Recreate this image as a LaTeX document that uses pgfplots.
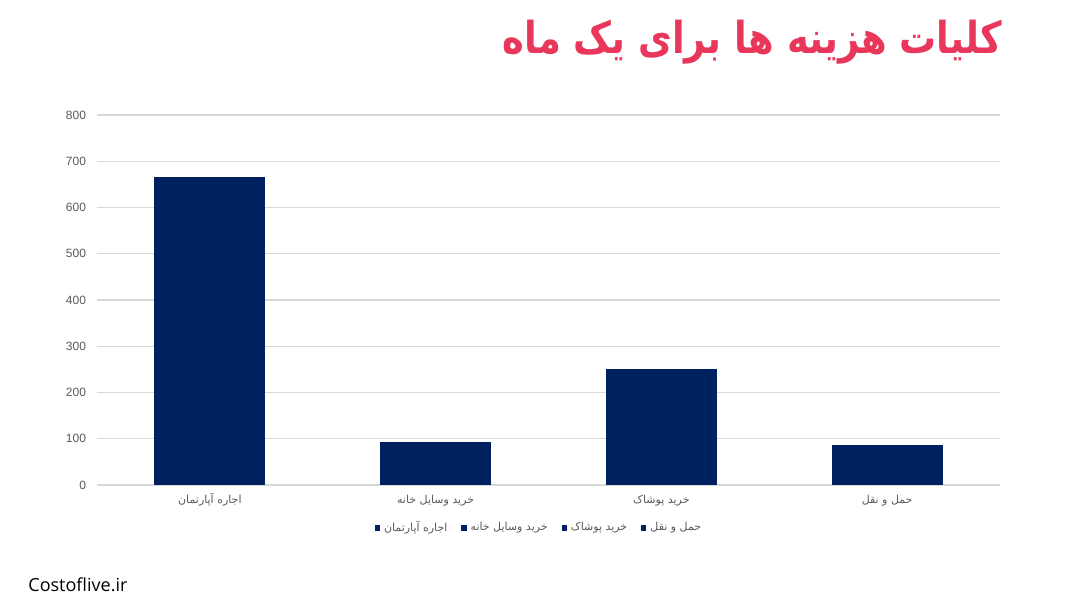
\documentclass[border=0pt]{standalone}
\usepackage{fontspec}
\usepackage{pgfplots}
\pgfplotsset{compat=1.18}
\setmainfont{Liberation Sans}
\newfontfamily\arabicfont[Script=Arabic]{DejaVu Sans}
\newfontfamily\wmfont{Open Sans}
\TeXXeTstate=1
\definecolor{navy}{RGB}{0,33,96}
\definecolor{titlered}{RGB}{232,55,90}
\definecolor{gridgray}{RGB}{217,217,217}
\definecolor{labelgray}{RGB}{89,89,89}

% 1 px of the reference = 0.5pt
\begin{document}
\begin{tikzpicture}
  \path[use as bounding box] (0pt,0pt) rectangle (540pt,303.5pt);
  \begin{axis}[at={(48.5pt,61pt)}, anchor=south west, scale only axis,
      width=451.5pt, height=185pt,
      xmin=-0.5, xmax=3.5, ymin=0, ymax=800,
      ytick={0,100,...,800}, ymajorgrids,
      grid style={gridgray, line width=0.7pt},
      axis x line*=bottom, axis y line*=left,
      x axis line style={gridgray, line width=0.7pt, -},
      y axis line style={draw=none},
      ytick style={draw=none},
      xtick={0,1,2,3},
      xticklabels={{\beginR اجاره آپارتمان\endR},{\beginR خرید وسایل خانه\endR},{\beginR خرید پوشاک\endR},{\beginR حمل و نقل\endR}},
      xtick style={draw=none},
      extra x ticks={-0.5,0.5,1.5,2.5,3.5},
      extra x tick labels={},
      extra x tick style={tick align=outside, major tick length=3pt,
        tick style={draw=gridgray, line width=0.7pt}},
      xticklabel style={font=\arabicfont\fontsize{5.5}{6.5}\selectfont, text=labelgray,
        text height=4.5pt, text depth=1.5pt, yshift=-1pt},
      yticklabel style={font=\fontsize{6}{7}\selectfont, text=labelgray, xshift=-2pt},
      /pgf/number format/assume math mode=true,
      legend style={at={(0.4906,-0.116)}, anchor=center, draw=none,
        font=\arabicfont\fontsize{5.5}{6}\selectfont, text=labelgray,
        /tikz/every even column/.append style={column sep=5pt}},
      legend columns=4,
      legend image code/.code={\fill[navy] (0pt,-1.3pt) rectangle (2.6pt,1.3pt);},
    ]
    \addplot[ybar, fill=navy, draw=none, bar width=55.5pt, bar shift=0pt] coordinates {(0,667)};
    \addlegendentry{\beginR اجاره آپارتمان\endR}
    \addplot[ybar, fill=navy, draw=none, bar width=55.5pt, bar shift=0pt] coordinates {(1,92)};
    \addlegendentry{\beginR خرید وسایل خانه\endR}
    \addplot[ybar, fill=navy, draw=none, bar width=55.5pt, bar shift=0pt] coordinates {(2,250)};
    \addlegendentry{\beginR خرید پوشاک\endR}
    \addplot[ybar, fill=navy, draw=none, bar width=55.5pt, bar shift=0pt] coordinates {(3,87)};
    \addlegendentry{\beginR حمل و نقل\endR}
  \end{axis}
  \node[anchor=east, text=titlered, inner sep=0pt, xscale=0.84,
    font=\arabicfont\bfseries\fontsize{22}{26}\selectfont] at (501.5pt,282.5pt)
    {\beginR کلیات هزینه ها برای یک ماه\endR};
  \node[anchor=west, inner sep=0pt, font=\wmfont\fontsize{9}{10}\selectfont]
    at (14pt,11pt) {Costoflive.ir};
\end{tikzpicture}
\end{document}
